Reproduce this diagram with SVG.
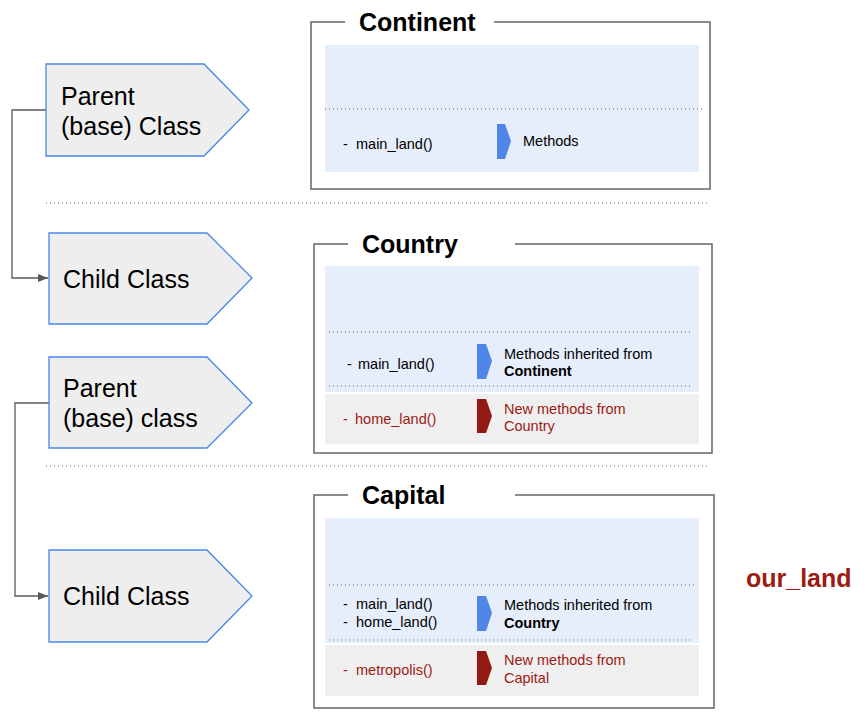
<svg xmlns="http://www.w3.org/2000/svg" width="868" height="722" viewBox="0 0 868 722">
<defs>
<style>
.pent{fill:#eeeeee;stroke:#4a86e8;stroke-width:1.3}
.big{font-family:"Liberation Sans",Arial,sans-serif;font-size:25px;fill:#000}
.title{font-family:"Liberation Sans",Arial,sans-serif;font-size:25px;font-weight:bold;fill:#000}
.frame{fill:none;stroke:#666;stroke-width:1.5}
.blue{fill:#e6edfb}
.gray{fill:#efefef}
.dot{stroke:#666;stroke-width:1;stroke-dasharray:1 3;fill:none}
.sm{font-family:"Liberation Sans",Arial,sans-serif;font-size:14.5px;fill:#000}
.smr{font-family:"Liberation Sans",Arial,sans-serif;font-size:14.5px;fill:#9c1c14}
.b{font-weight:bold}
.chb{fill:#4f86e8}
.chr{fill:#911a12}
.conn{fill:none;stroke:#595959;stroke-width:1.3}
</style>
<marker id="arr" markerWidth="10" markerHeight="8" refX="10" refY="4" orient="auto" markerUnits="userSpaceOnUse">
<path d="M0,0 L10,4 L0,8 Z" fill="#595959"/>
</marker>
</defs>
<rect width="868" height="722" fill="#fff"/>

<g id="connectors">
<path class="conn" d="M46,110 H12 V278 H48" marker-end="url(#arr)"/>
<path class="conn" d="M49,403 H15 V596 H48" marker-end="url(#arr)"/>
</g>

<g id="separators">
<line class="dot" x1="46" y1="203" x2="708" y2="203"/>
<line class="dot" x1="46" y1="466" x2="708" y2="466"/>
</g>

<g id="parent1">
<path class="pent" d="M46,64 H204 L249,110 L204,156 H46 Z"/>
<text class="big" x="61" y="105">Parent</text>
<text class="big" x="61" y="135">(base) Class</text>
</g>
<g id="child1">
<path class="pent" d="M49,233 H207 L252,278 L207,324 H49 Z"/>
<text class="big" x="63" y="288">Child Class</text>
</g>
<g id="parent2">
<path class="pent" d="M49,357 H207 L252,403 L207,448 H49 Z"/>
<text class="big" x="63" y="397">Parent</text>
<text class="big" x="63" y="427">(base) class</text>
</g>
<g id="child2">
<path class="pent" d="M49,550 H207 L252,596 L207,642 H49 Z"/>
<text class="big" x="63" y="605">Child Class</text>
</g>

<g id="continent">
<path class="frame" d="M345,22 H311 V189 H710 V22 H494"/>
<text class="title" x="359" y="31">Continent</text>
<rect class="blue" x="325" y="45" width="374" height="127"/>
<line class="dot" x1="325" y1="109" x2="705" y2="109"/>
<text class="sm" y="149"><tspan x="343">-</tspan><tspan x="356">main_land()</tspan></text>
<path class="chb" d="M497,124 H505 L511,141 L505,159 H497 Z"/>
<text class="sm" x="523" y="146">Methods</text>
</g>

<g id="country">
<path class="frame" d="M348,244 H314 V453 H712 V244 H515"/>
<text class="title" x="362" y="253">Country</text>
<rect class="blue" x="325" y="266" width="374" height="126"/>
<rect class="gray" x="325" y="394" width="374" height="50"/>
<line class="dot" x1="329" y1="332" x2="693" y2="332"/>
<line class="dot" x1="329" y1="386" x2="693" y2="386"/>
<text class="sm" y="369"><tspan x="347">-</tspan><tspan x="358">main_land()</tspan></text>
<path class="chb" d="M477,344 H486 L492,361 L486,379 H477 Z"/>
<text class="sm" x="504" y="359">Methods inherited from</text>
<text class="sm b" x="504" y="376">Continent</text>
<text class="smr" y="424"><tspan x="343">-</tspan><tspan x="355">home_land()</tspan></text>
<path class="chr" d="M477,399 H486 L492,416 L486,433 H477 Z"/>
<text class="smr" x="504" y="414">New methods from</text>
<text class="smr" x="504" y="431">Country</text>
</g>

<g id="capital">
<path class="frame" d="M348,495 H314 V708 H714 V495 H515"/>
<text class="title" x="362" y="504">Capital</text>
<rect class="blue" x="325" y="518" width="374" height="125"/>
<rect class="gray" x="325" y="645" width="374" height="51"/>
<line class="dot" x1="329" y1="585" x2="697" y2="585"/>
<line class="dot" x1="329" y1="640" x2="693" y2="640"/>
<text class="sm" y="609"><tspan x="343">-</tspan><tspan x="356">main_land()</tspan></text>
<text class="sm" y="627"><tspan x="343">-</tspan><tspan x="356">home_land()</tspan></text>
<path class="chb" d="M477,596 H486 L492,613 L486,631 H477 Z"/>
<text class="sm" x="504" y="610">Methods inherited from</text>
<text class="sm b" x="504" y="628">Country</text>
<text class="smr" y="675"><tspan x="343">-</tspan><tspan x="356">metropolis()</tspan></text>
<path class="chr" d="M477,651 H486 L492,668 L486,685 H477 Z"/>
<text class="smr" x="504" y="665">New methods from</text>
<text class="smr" x="504" y="683">Capital</text>
</g>

<g id="our_land">
<text x="746" y="587" style="font-family:'Liberation Sans',Arial,sans-serif;font-size:25px;font-weight:bold;fill:#9c1c14">our_land</text>
</g>
</svg>
